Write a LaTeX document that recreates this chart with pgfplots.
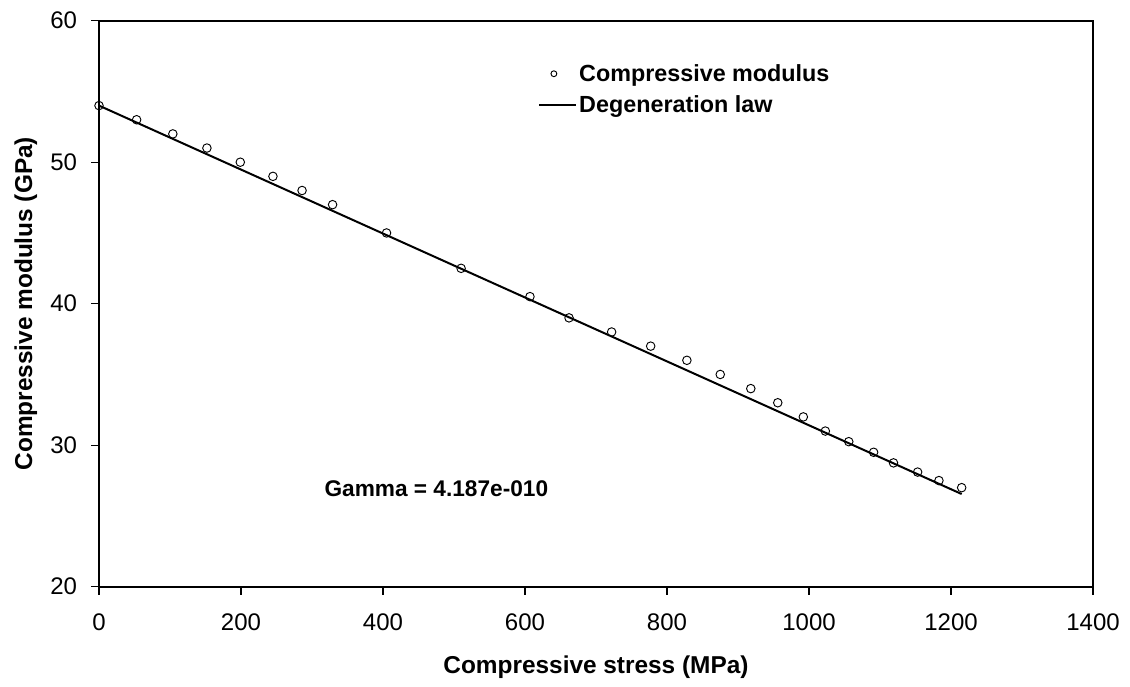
\documentclass[border=0pt]{standalone}
\usepackage{pgfplots}
\pgfplotsset{compat=1.18}
\usepackage{fontspec}
\setmainfont{Liberation Sans}
\pgfplotsset{
  marklegend/.style={legend image code/.code={\draw[##1, mark size=2.2pt] plot coordinates {(11pt,0pt)};}},
  linelegend/.style={legend image code/.code={\draw[##1] (0pt,0pt) -- (27.75pt,0pt);}},
}
\begin{document}
\begin{tikzpicture}[x=1pt,y=1pt]
\useasboundingbox (-74.25pt,-74.475pt) rectangle (773.25pt,440.025pt);
\begin{axis}[
  at={(0pt,0pt)}, anchor=south west,
  scale only axis,
  width=745.5pt, height=424.5pt,
  xmin=0, xmax=1400, ymin=20, ymax=60,
  xtick={0,200,...,1400}, ytick={20,30,...,60},
  tick align=outside, xtick pos=bottom, ytick pos=left,
  major tick length=6pt,
  axis line style={line width=1.5pt},
  every tick/.style={line width=0.8pt, black},
  /pgf/number format/assume math mode=true,
  /pgf/number format/1000 sep={},
  ticklabel style={font=\fontsize{18}{21}\selectfont},
  xticklabel style={yshift=-11pt},
  yticklabel style={xshift=-7pt},
  xlabel={\textbf{Compressive stress (MPa)}},
  ylabel={\textbf{Compressive modulus (GPa)}},
  xlabel style={yshift=-12pt},
  ylabel style={yshift=3pt},
  label style={font=\fontsize{18.3}{22}\selectfont},
  legend style={draw=none, fill=none, at={(axis description cs:0.4416,0.927)}, anchor=north west,
    font=\fontsize{17.5}{21}\selectfont\bfseries, row sep=6pt, inner sep=0pt,
    nodes={inner sep=1.5pt}},
  legend cell align=left,
]
\addplot[only marks, mark=o, mark size=3.2pt, mark options={line width=0.7pt, black}, marklegend]
  coordinates {
  (0,54.0) (53,53.0) (104,52.0) (152,51.0) (199,50.0) (245,49.0) (286,48.0) (329,47.0)
  (405,45.0) (510,42.5) (607,40.5) (662,39.0) (722,38.0) (777,37.0) (828,36.0)
  (875,35.0) (918,34.0) (956,33.0) (992,32.0) (1023,31.0) (1056,30.25) (1091,29.5)
  (1119,28.75) (1153,28.1) (1183,27.5) (1215,27.0)
  };
\addlegendentry{Compressive modulus}
\addplot[black, line width=1.5pt, linelegend]
  coordinates {(0,54.0) (480,43.15) (1215,26.55)};
\addlegendentry{Degeneration law}
\node[anchor=base west, font=\fontsize{17}{20}\selectfont\bfseries] at (axis cs:311,26.34) {Gamma = 4.187e-010};
\end{axis}
\end{tikzpicture}
\end{document}
